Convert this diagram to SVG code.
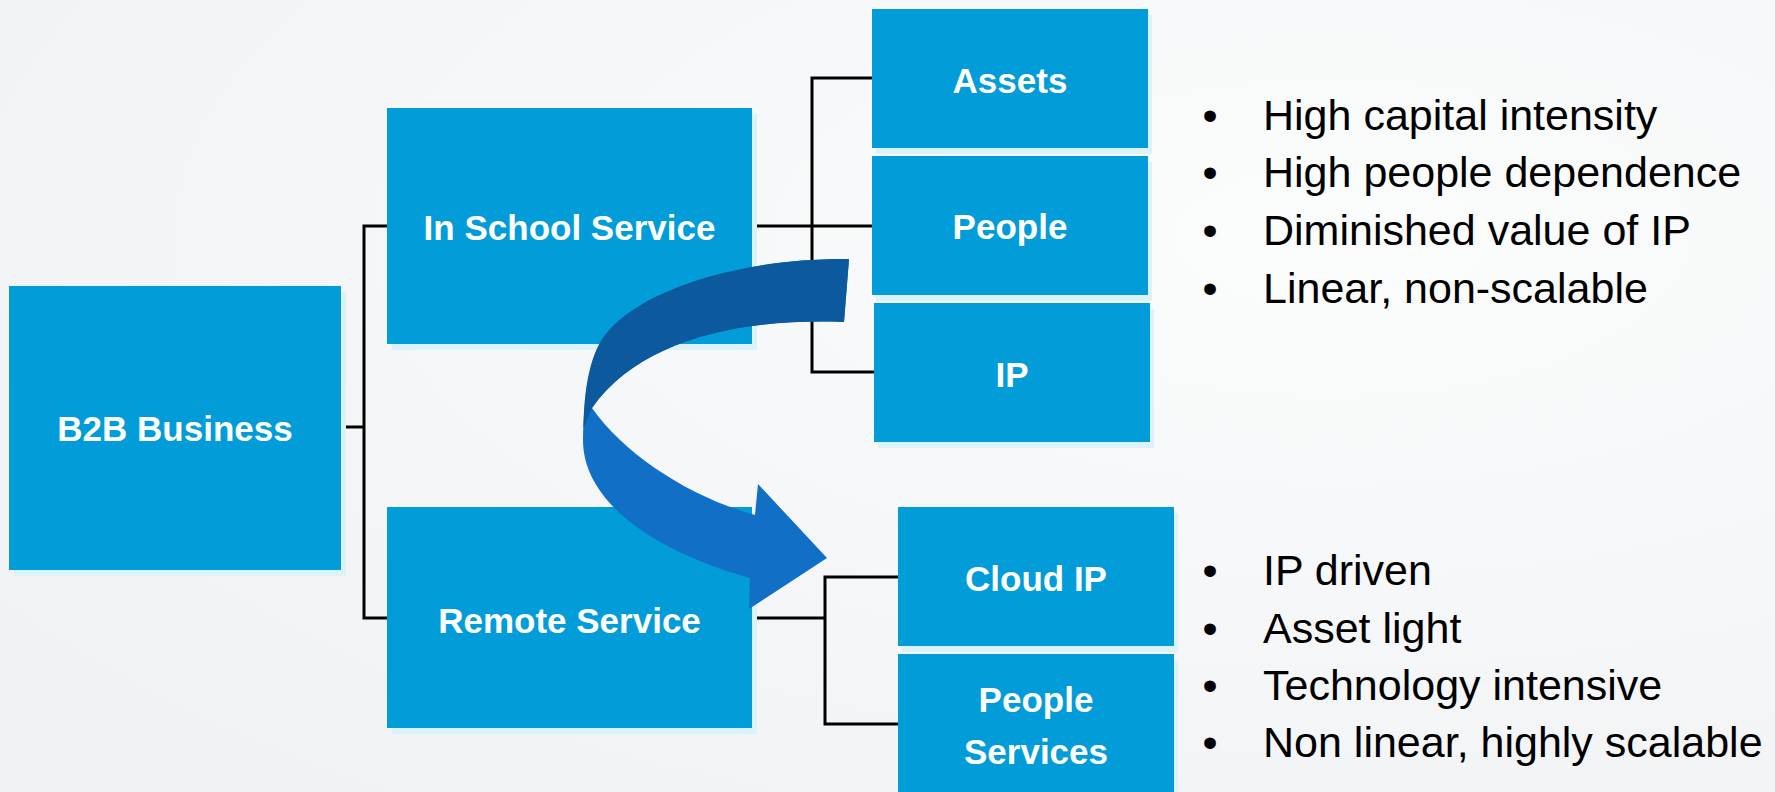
<svg xmlns="http://www.w3.org/2000/svg" width="1775" height="792" viewBox="0 0 1775 792">
  <defs>
    <radialGradient id="bg" cx="0.75" cy="0.3" r="0.9">
      <stop offset="0" stop-color="#fbfcfc"/>
      <stop offset="1" stop-color="#f1f2f4"/>
    </radialGradient>
  </defs>
  <style>
    .box { fill: #029dd8; }
    .shadow { fill: #dbf3f8; }
    .lbl { font-family: "Liberation Sans", Arial, sans-serif; font-weight: bold; font-size: 35px; fill: #ffffff; text-anchor: middle; }
    .conn { fill: none; stroke: #000000; stroke-width: 3; }
    .bul { font-family: "Liberation Sans", Arial, sans-serif; font-size: 43px; fill: #000000; }
    .dot { text-anchor: middle; }
  </style>
  <rect x="0" y="0" width="1775" height="792" fill="url(#bg)"/>

  <g id="connectors">
    <path class="conn" d="M341,427 H364 M387,226 H364 V618 H387"/>
    <path class="conn" d="M752,226 H812 M872,78 H812 V372 H874 M812,226 H872"/>
    <path class="conn" d="M752,618 H825 M898,577 H825 V724 H898"/>
  </g>

  <g id="node-b2b">
    <rect class="shadow" x="14" y="292" width="332" height="284"/>
    <rect class="box" x="9" y="286" width="332" height="284"/>
    <text class="lbl" x="175" y="441">B2B Business</text>
  </g>
  <g id="node-inschool">
    <rect class="shadow" x="392" y="114" width="365" height="236"/>
    <rect class="box" x="387" y="108" width="365" height="236"/>
    <text class="lbl" x="569.5" y="240">In School Service</text>
  </g>
  <g id="node-remote">
    <rect class="shadow" x="392" y="513" width="365" height="221"/>
    <rect class="box" x="387" y="507" width="365" height="221"/>
    <text class="lbl" x="569.5" y="632.5">Remote Service</text>
  </g>
  <g id="node-assets">
    <rect class="shadow" x="876" y="15" width="276" height="139"/>
    <rect class="box" x="872" y="9" width="276" height="139"/>
    <text class="lbl" x="1010" y="92.5">Assets</text>
  </g>
  <g id="node-people">
    <rect class="shadow" x="876" y="162" width="276" height="139"/>
    <rect class="box" x="872" y="156" width="276" height="139"/>
    <text class="lbl" x="1010" y="238.5">People</text>
  </g>
  <g id="node-ip">
    <rect class="shadow" x="878" y="309" width="276" height="139"/>
    <rect class="box" x="874" y="303" width="276" height="139"/>
    <text class="lbl" x="1012" y="387">IP</text>
  </g>
  <g id="node-cloudip">
    <rect class="shadow" x="902" y="513" width="276" height="139"/>
    <rect class="box" x="898" y="507" width="276" height="139"/>
    <text class="lbl" x="1036" y="590.5">Cloud IP</text>
  </g>
  <g id="node-peopleservices">
    <rect class="shadow" x="902" y="660" width="276" height="139"/>
    <rect class="box" x="898" y="654" width="276" height="139"/>
    <text class="lbl" x="1036" y="711.5">People</text>
    <text class="lbl" x="1036" y="763.5">Services</text>
  </g>

  <g id="curved-arrow">
    <path fill="#116fc6" d="M849,259 C740,258 640,290 605,335 C588,358 584,400 583,440 C583,500 650,550 750,578 L749,609 L827,558 L758,484 L755,515 C690,497 625,455 592,408 C640,340 740,318 844,322 Z"/>
    <path fill="#0c599d" d="M849,259 C740,258 640,290 605,335 C588,358 584,395 583.5,428 L592,408 C640,340 740,318 844,322 Z"/>
  </g>

  <g id="list-top" class="bul">
    <text class="dot" x="1210" y="129.5">•</text>
    <text x="1263" y="129.5">High capital intensity</text>
    <text class="dot" x="1210" y="187">•</text>
    <text x="1263" y="187">High people dependence</text>
    <text class="dot" x="1210" y="245">•</text>
    <text x="1263" y="245">Diminished value of IP</text>
    <text class="dot" x="1210" y="303">•</text>
    <text x="1263" y="303">Linear, non-scalable</text>
  </g>
  <g id="list-bottom" class="bul">
    <text class="dot" x="1210" y="585">•</text>
    <text x="1263" y="585">IP driven</text>
    <text class="dot" x="1210" y="643">•</text>
    <text x="1263" y="643">Asset light</text>
    <text class="dot" x="1210" y="700">•</text>
    <text x="1263" y="700">Technology intensive</text>
    <text class="dot" x="1210" y="757">•</text>
    <text x="1263" y="757">Non linear, highly scalable</text>
  </g>
</svg>
